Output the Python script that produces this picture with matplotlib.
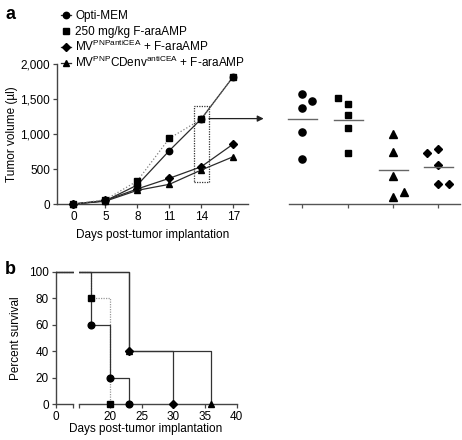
import numpy as np
import matplotlib
matplotlib.use('Agg')
import matplotlib.pyplot as plt
from matplotlib.patches import Rectangle
from matplotlib.lines import Line2D
from matplotlib.transforms import Bbox, TransformedBbox

plt.rcParams['font.family'] = ['Liberation Sans', 'DejaVu Sans']
plt.rcParams['mathtext.fontset'] = 'custom'
plt.rcParams['mathtext.rm'] = 'Liberation Sans'
plt.rcParams['mathtext.it'] = 'Liberation Sans:italic'
plt.rcParams['mathtext.bf'] = 'Liberation Sans:bold'
plt.rcParams['font.size'] = 8.5

# ---------------- data ----------------
days = [0, 5, 8, 11, 14, 17]
group_labels = ['Opti-MEM',
                '250 mg/kg F-araAMP',
                'MV$^{\\mathrm{PNPantiCEA}}$ + F-araAMP',
                'MV$^{\\mathrm{PNP}}$CDenv$^{\\mathrm{antiCEA}}$ + F-araAMP']
vol_opti = [0, 45, 271, 762, 1216, 1820]
vol_fara = [0, 60, 329, 938, 1210, 1820]
vol_mv1 = [0, 50, 215, 367, 533, 857]
vol_mv2 = [0, 40, 195, 281, 486, 676]

# day-14 individual tumour volumes
d14_opti = [1568, 1472, 1367, 1026, 647]
d14_fara = [1515, 1434, 1266, 1079, 724]
d14_mv2 = [997, 738, 407, 105, 168]
d14_mv1 = [787, 724, 561, 288, 288]
# horizontal jitter of the points (category units)
jit_opti = [0, 0.22, 0, 0, 0]
jit_fara = [-0.22, 0, 0, 0, 0]
jit_mv2 = [0, 0, 0, 0, 0.25]
jit_mv1 = [0, -0.25, 0, 0, 0.24]

# survival (step curves)
surv_t_opti = [0, 17, 20, 23]
surv_p_opti = [100, 60, 20, 0]
surv_t_fara = [0, 17, 20]
surv_p_fara = [100, 80, 0]
surv_t_mv1 = [0, 23, 30]
surv_p_mv1 = [100, 40, 0]
surv_t_mv2 = [0, 23, 36]
surv_p_mv2 = [100, 40, 0]

W, H = 462, 440
fig = plt.figure(figsize=(W / 100, H / 100), dpi=100)

def fr(x0, y0, x1, y1):
    return [x0 / W, 1 - y1 / H, (x1 - x0) / W, (y1 - y0) / H]

dark = '#2b2b2b'
grey = '#808080'
styles = [
    dict(marker='o', color=dark, ls='-', ms=4.6),
    dict(marker='s', color=grey, ls=':', ms=4.4),
    dict(marker='D', color=dark, ls='-', ms=3.6),
    dict(marker='^', color=dark, ls='-', ms=4.6),
]

def style_axis(ax):
    for s in ['top', 'right']:
        ax.spines[s].set_visible(False)
    for s in ['left', 'bottom']:
        ax.spines[s].set_color('#444444')
        ax.spines[s].set_linewidth(1.0)
    ax.tick_params(direction='out', length=3, width=0.9, color='#444444',
                   labelsize=8.5, pad=2)

# ---------------- panel a: growth curves ----------------
ax = fig.add_axes(fr(57, 64, 248, 204))
style_axis(ax)
x = np.arange(len(days))
vols = [vol_opti, vol_fara, vol_mv1, vol_mv2]
for i in range(4):
    st = styles[i]
    lc = dark if i != 1 else grey
    ax.plot(x, vols[i], linestyle=st['ls'], color=lc, lw=0.9,
            marker=st['marker'], ms=st['ms'], mfc='black', mec='black',
            clip_on=False, zorder=3 + (1 if i == 1 else 0))
ax.set_xlim(-0.51, 5.46)
ax.set_ylim(0, 2000)
ax.set_xticks(x)
ax.set_xticklabels([str(d) for d in days])
ax.set_yticks([0, 500, 1000, 1500, 2000])
ax.set_yticklabels(['0', '500', '1,000', '1,500', '2,000'])
ax.set_ylabel('Tumor volume (\u00b5l)', labelpad=2)
ax.set_xlabel('Days post-tumor implantation', labelpad=4)

rect = Rectangle((3.77, 314), 0.47, 1086, fill=False, ls=(0, (1, 1)),
                 lw=0.9, ec='#333333', clip_on=False, zorder=2)
ax.add_patch(rect)
ax.annotate('', xy=(5.95, 1220), xytext=(4.24, 1220),
            arrowprops=dict(arrowstyle='-|>', color='#222222', lw=0.9,
                            mutation_scale=9, shrinkA=0, shrinkB=0),
            annotation_clip=False)

# legend (drawn row by row for even spacing)
leg_rows_y = [15, 31, 47, 63]
for i in range(4):
    st = styles[i]
    yy = 1 - leg_rows_y[i] / H
    lc = dark if i != 1 else grey
    fig.add_artist(Line2D([61.5 / W, 70.5 / W], [yy, yy], transform=fig.transFigure,
                          color=lc, lw=0.9, ls='-' if i != 1 else 'none'))
    fig.add_artist(Line2D([66 / W], [yy], transform=fig.transFigure,
                          marker=st['marker'], ms=st['ms'], mfc='black',
                          mec='black', ls='none'))
    fig.text(75 / W, yy - 4.2 / H, group_labels[i], fontsize=8.5,
             va='baseline', ha='left')

# ---------------- panel a: day-14 scatter ----------------
ax2 = fig.add_axes(fr(289, 64, 460, 204))
for s in ['top', 'right', 'left']:
    ax2.spines[s].set_visible(False)
ax2.spines['bottom'].set_color('#555555')
ax2.spines['bottom'].set_linewidth(1.0)
ax2.set_yticks([])
d14 = [d14_opti, d14_fara, d14_mv2, d14_mv1]
jits = [jit_opti, jit_fara, jit_mv2, jit_mv1]
mk = [styles[0], styles[1], styles[3], styles[2]]
for k in range(4):
    xs = k + np.array(jits[k])
    ms = mk[k]['ms'] * 1.12
    ax2.plot(xs, d14[k], ls='none', marker=mk[k]['marker'], ms=ms,
             mfc='black', mec='black', clip_on=False)
    m = np.mean(d14[k])
    ax2.plot([k - 0.31, k + 0.33], [m, m], color='#666666', lw=1.0,
             clip_on=False)
ax2.set_xlim(-0.294, 3.48)
ax2.set_ylim(0, 2000)
ax2.set_xticks(range(4))
ax2.set_xticklabels([])
ax2.tick_params(axis='x', direction='out', length=3, width=0.9,
                color='#555555')

# ---------------- panel b: survival (broken x-axis) ----------------
axL = fig.add_axes(fr(55.7, 271.7, 73.3, 404))
axR = fig.add_axes(fr(79.3, 271.7, 236.7, 404))
style_axis(axL)
style_axis(axR)
axR.spines['left'].set_visible(False)
axR.tick_params(axis='y', left=False, labelleft=False)

surv = [(surv_t_opti, surv_p_opti), (surv_t_fara, surv_p_fara),
        (surv_t_mv1, surv_p_mv1), (surv_t_mv2, surv_p_mv2)]
for a in (axL, axR):
    cb = TransformedBbox(Bbox([[0, -0.1], [1.02, 1.1]]), a.transAxes)
    arts = []
    for i in [1, 2, 3, 0]:
        t, p = surv[i]
        if i == 1:
            arts += a.step(t, p, where='post', color='#999999', lw=0.9,
                           ls=(0, (1, 1)), zorder=2)
        else:
            arts += a.step(t, p, where='post', color='#333333', lw=0.9,
                           zorder=3)
    for i in [1, 2, 3, 0]:
        t, p = surv[i]
        st = styles[i]
        arts += a.plot(t[1:], p[1:], ls='none', marker=st['marker'],
                       ms=st['ms'] * 1.05, mfc='black', mec='black', zorder=5)
    for art in arts:
        art.set_clip_on(True)
        art.set_clip_box(cb)
    a.set_ylim(0, 100)

axL.set_xlim(0, 2.78)
axL.set_xticks([0, 2.78])
axL.set_xticklabels(['0', ''])
axL.set_yticks([0, 20, 40, 60, 80, 100])
axL.set_ylabel('Percent survival', labelpad=5)
axR.set_xlim(15.15, 40)
axR.set_xticks([15.15, 20, 25, 30, 35, 40])
axR.set_xticklabels(['', '20', '25', '30', '35', '40'])
fig.text(146 / W, 1 - 432 / H, 'Days post-tumor implantation', ha='center',
         va='baseline', fontsize=8.5)

fig.text(5 / W, 1 - 19 / H, 'a', fontsize=13, fontweight='bold', va='baseline')
fig.text(5 / W, 1 - 274 / H, 'b', fontsize=13, fontweight='bold', va='baseline')

fig.savefig('out.png', dpi=100)
